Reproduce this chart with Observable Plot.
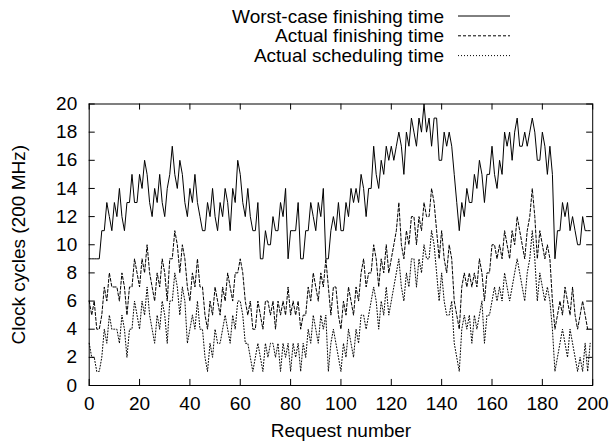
<!DOCTYPE html>
<html>
<head>
<meta charset="utf-8">
<script src="https://cdn.jsdelivr.net/npm/d3@7"></script>
<script src="https://cdn.jsdelivr.net/npm/@observablehq/plot@0.6"></script>
<style>
  html, body { margin: 0; padding: 0; background: #fff; }
  #wrap { position: relative; width: 610px; height: 443px; font-family: "Liberation Sans", Arial, Helvetica, sans-serif; }
  #legend { position: absolute; left: 0; top: 0; }
</style>
</head>
<body>
<div id="wrap"><div id="chart"></div><svg id="legend" width="610" height="70"></svg></div>
<script>
// Request numbers 0..199
const requestNumbers = d3.range(200);

const worstCase = [
  9,9,9,9,9,11,11,13,12,11,
  13,12,14,12,11,13,13,15,13,13,
  15,14,16,15,13,12,14,13,15,13,
  12,14,15,17,15,14,16,15,13,12,
  14,13,15,13,12,11,11,13,12,14,
  12,11,13,12,14,13,11,14,13,16,
  15,13,12,14,12,11,11,13,9,9,
  11,10,10,12,11,11,13,12,14,9,
  11,11,11,13,9,9,11,11,13,12,
  11,13,12,14,9,9,11,12,11,13,
  11,11,13,12,14,13,14,13,15,14,
  12,14,14,17,15,14,16,15,17,16,
  17,16,17,18,17,15,18,17,19,18,
  17,19,18,20,18,19,17,19,19,16,
  16,18,17,18,17,15,13,11,13,12,
  14,13,13,15,14,16,15,13,15,15,
  17,15,14,16,15,18,17,18,16,18,
  19,17,17,18,17,18,19,18,16,16,
  18,17,15,17,15,9,11,11,13,12,
  13,11,12,11,10,10,12,11,11,11
];

const actualFinishing = [
  6,5,6,4,4,5,7,6,8,7,
  7,7,6,8,7,5,7,7,9,8,
  7,9,8,10,8,7,6,8,7,9,
  8,6,9,9,11,10,8,10,9,7,
  6,8,7,9,7,7,5,4,6,5,
  7,6,5,7,6,8,7,6,8,8,
  9,8,6,5,6,4,4,6,5,4,
  6,6,5,6,4,6,5,6,5,7,
  5,6,5,6,4,5,5,7,6,8,
  7,6,8,7,9,7,5,7,7,5,
  4,6,5,7,6,5,7,6,8,9,
  7,8,8,10,9,7,9,8,10,8,
  9,10,11,13,10,9,11,10,12,12,
  10,12,11,13,12,12,14,13,11,9,
  11,9,8,10,9,6,5,4,7,8,
  7,8,7,8,7,9,8,6,8,8,
  10,10,9,10,9,11,10,9,11,10,
  12,11,10,9,11,12,14,12,9,11,
  10,9,10,9,6,4,5,6,5,7,
  6,5,7,5,4,5,6,5,4,4
];

const actualScheduling = [
  3,2,2,1,1,2,4,3,5,4,
  4,4,3,5,4,2,4,4,6,5,
  4,6,5,7,5,4,3,5,4,6,
  5,3,6,6,8,7,5,7,6,3,
  4,5,4,6,4,4,2,1,3,2,
  4,3,3,4,5,4,3,5,4,6,
  6,5,3,3,2,1,2,3,2,1,
  3,2,3,3,2,3,1,3,2,3,
  1,3,2,3,1,3,2,4,3,5,
  4,3,5,4,5,1,3,4,3,2,
  1,3,2,4,3,2,4,3,5,5,
  4,5,6,7,6,4,6,5,7,5,
  6,7,8,9,7,6,8,7,9,9,
  7,9,8,10,9,9,11,10,8,6,
  8,6,5,5,6,3,2,1,4,5,
  4,5,3,5,4,5,6,3,5,5,
  6,7,6,7,6,8,7,6,7,8,
  9,8,7,6,8,9,11,9,6,8,
  7,6,7,6,4,1,2,3,4,3,
  2,4,3,2,1,2,1,3,1,3
];

const xTicks = [0,20,40,60,80,100,120,140,160,180,200];
const yTicks = [0,2,4,6,8,10,12,14,16,18,20];

const seriesNames = ["Worst-case finishing time", "Actual finishing time", "Actual scheduling time"];
const seriesDash = ["none", "3,2", "1,2"];

const rows = requestNumbers.map((r, i) => ({
  r, w: worstCase[i], a: actualFinishing[i], s: actualScheduling[i]
}));

const font = "Liberation Sans, Arial, Helvetica, sans-serif";
const fs = 19;

const chart = Plot.plot({
  width: 610,
  height: 443,
  marginTop: 103.5,
  marginBottom: 58,
  marginLeft: 88.7,
  marginRight: 17.8,
  style: { fontFamily: font, fontSize: fs + "px", color: "#000", background: "#fff" },
  x: { domain: [0, 200] },
  y: { domain: [0, 20] },
  marks: [
    Plot.line(rows, { x: "r", y: "w", stroke: "#000", strokeWidth: 1 }),
    Plot.line(rows, { x: "r", y: "a", stroke: "#000", strokeWidth: 1, strokeDasharray: "3,2" }),
    Plot.line(rows, { x: "r", y: "s", stroke: "#000", strokeWidth: 1, strokeDasharray: "1,2" }),
    // inward ticks, mirrored on all four sides
    Plot.ruleX(xTicks, { x: d => d, y1: 0, y2: 0.43, stroke: "#000" }),
    Plot.ruleX(xTicks, { x: d => d, y1: 19.57, y2: 20, stroke: "#000" }),
    Plot.ruleY(yTicks, { y: d => d, x1: 0, x2: 2.4, stroke: "#000" }),
    Plot.ruleY(yTicks, { y: d => d, x1: 197.6, x2: 200, stroke: "#000" }),
    Plot.frame({ stroke: "#000", strokeWidth: 1 }),
    Plot.axisX(xTicks, { tickSize: 0, tickPadding: 11, label: null, fontSize: fs }),
    Plot.axisY(yTicks, { tickSize: 0, tickPadding: 12, label: null, fontSize: fs }),
    Plot.text(["Request number"], { frameAnchor: "bottom", dy: 51, fontSize: fs }),
    Plot.text(["Clock cycles (200 MHz)"], { frameAnchor: "left", dx: -70, rotate: -90, textAnchor: "middle", fontSize: fs })
  ]
});
document.getElementById("chart").appendChild(chart);

// Legend (gnuplot-style key, top right)
const leg = d3.select("#legend");
seriesNames.forEach((name, i) => {
  const y = 16 + i * 19.8;
  leg.append("text")
    .attr("x", 444).attr("y", y).attr("dy", "0.35em")
    .attr("text-anchor", "end")
    .attr("font-family", font).attr("font-size", fs)
    .text(name);
  leg.append("line")
    .attr("x1", 458).attr("x2", 510).attr("y1", y).attr("y2", y)
    .attr("stroke", "#000").attr("stroke-width", 1)
    .attr("stroke-dasharray", seriesDash[i]);
});
</script>
</body>
</html>
